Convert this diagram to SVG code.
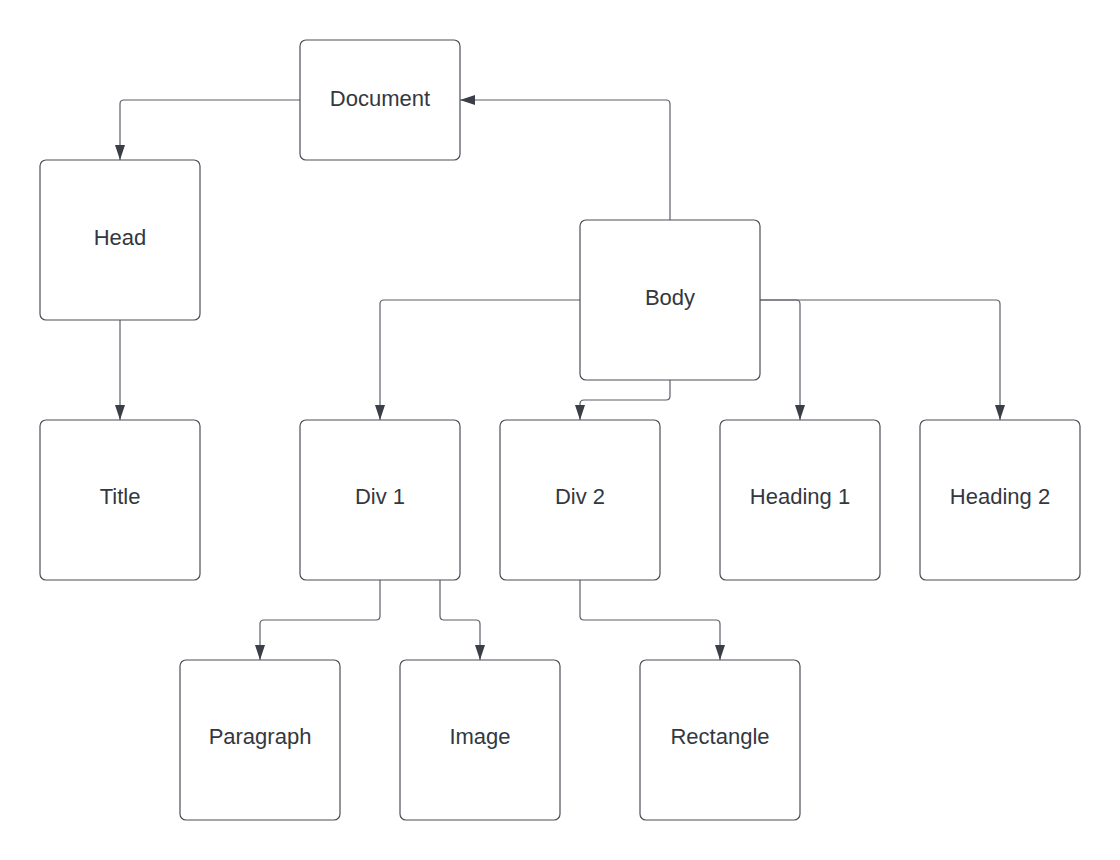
<svg xmlns="http://www.w3.org/2000/svg" width="1120" height="860" viewBox="0 0 1120 860">
<style>
.n rect{fill:#ffffff;stroke:#4a4f57;stroke-width:1.2}
.n text{font-family:"Liberation Sans",Arial,sans-serif;font-size:22px;fill:#333840;text-anchor:middle;dominant-baseline:central}
.c path{fill:none;stroke:#5a5f67;stroke-width:1.2;stroke-linejoin:round}
</style>
<defs>
<marker id="a" viewBox="0 0 15 11" refX="15" refY="5.5" markerWidth="15" markerHeight="11" markerUnits="userSpaceOnUse" orient="auto">
<path d="M0,0.5 L15,5.5 L0,10.5 Z" fill="#3a3f47"/>
</marker>
</defs>
<rect width="1120" height="860" fill="#ffffff"/>
<g class="c">
<path d="M300,100 H124 Q120,100 120,104 V160" marker-end="url(#a)"/>
<path d="M670,220 V104 Q670,100 666,100 H460" marker-end="url(#a)"/>
<path d="M120,320 V420" marker-end="url(#a)"/>
<path d="M580,300 H384 Q380,300 380,304 V420" marker-end="url(#a)"/>
<path d="M670,380 V396 Q670,400 666,400 H584 Q580,400 580,404 V420" marker-end="url(#a)"/>
<path d="M760,300 H796 Q800,300 800,304 V420" marker-end="url(#a)"/>
<path d="M760,300 H996 Q1000,300 1000,304 V420" marker-end="url(#a)"/>
<path d="M380,580 V616 Q380,620 376,620 H264 Q260,620 260,624 V660" marker-end="url(#a)"/>
<path d="M440,580 V616 Q440,620 444,620 H476 Q480,620 480,624 V660" marker-end="url(#a)"/>
<path d="M580,580 V616 Q580,620 584,620 H716 Q720,620 720,624 V660" marker-end="url(#a)"/>
</g>
<g id="document" class="n"><rect x="300" y="40" width="160" height="120" rx="6"/><text x="380" y="98">Document</text></g>
<g id="head" class="n"><rect x="40" y="160" width="160" height="160" rx="6"/><text x="120" y="237">Head</text></g>
<g id="body" class="n"><rect x="580" y="220" width="180" height="160" rx="6"/><text x="670" y="297">Body</text></g>
<g id="title" class="n"><rect x="40" y="420" width="160" height="160" rx="6"/><text x="120" y="496">Title</text></g>
<g id="div1" class="n"><rect x="300" y="420" width="160" height="160" rx="6"/><text x="380" y="496">Div 1</text></g>
<g id="div2" class="n"><rect x="500" y="420" width="160" height="160" rx="6"/><text x="580" y="496">Div 2</text></g>
<g id="heading1" class="n"><rect x="720" y="420" width="160" height="160" rx="6"/><text x="800" y="496">Heading 1</text></g>
<g id="heading2" class="n"><rect x="920" y="420" width="160" height="160" rx="6"/><text x="1000" y="496">Heading 2</text></g>
<g id="paragraph" class="n"><rect x="180" y="660" width="160" height="160" rx="6"/><text x="260" y="736">Paragraph</text></g>
<g id="image" class="n"><rect x="400" y="660" width="160" height="160" rx="6"/><text x="480" y="736">Image</text></g>
<g id="rectangle" class="n"><rect x="640" y="660" width="160" height="160" rx="6"/><text x="720" y="736">Rectangle</text></g>
</svg>
